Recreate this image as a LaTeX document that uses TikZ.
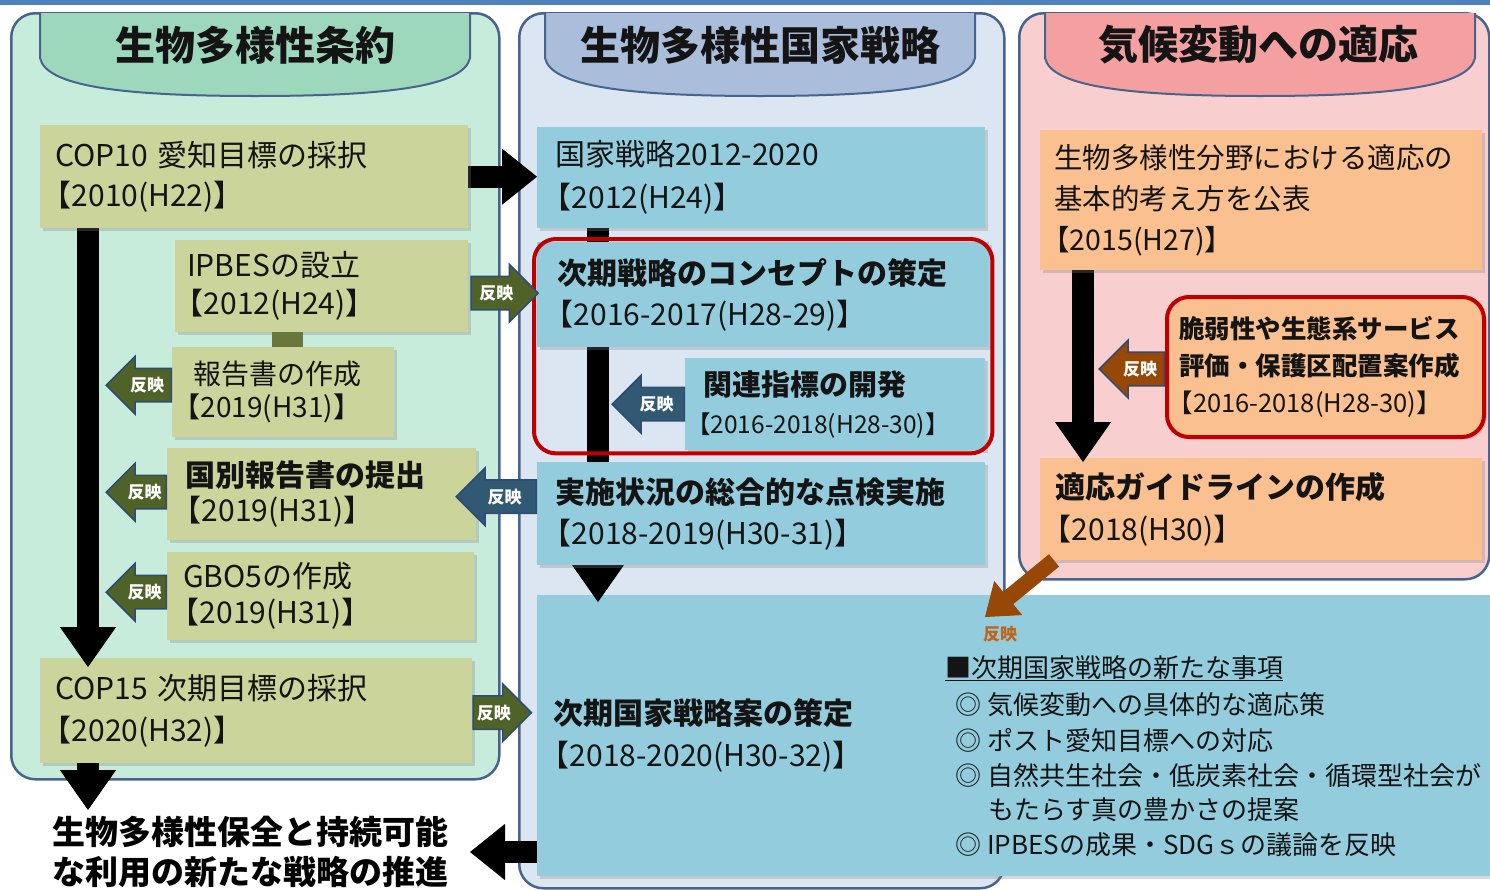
\documentclass[tikz,border=0pt]{standalone}
\usepackage{fontspec}
\setmainfont{Noto Sans CJK JP}
\usetikzlibrary{shapes.arrows,arrows.meta,fit,calc,shadows}
\definecolor{topblue}{RGB}{79,129,189}
\definecolor{pborder}{RGB}{70,100,140}
\definecolor{p1fill}{RGB}{200,236,220}
\definecolor{p2fill}{RGB}{220,230,242}
\definecolor{p3fill}{RGB}{249,206,206}
\definecolor{hd1}{RGB}{158,216,188}
\definecolor{hd2}{RGB}{170,190,220}
\definecolor{hd3}{RGB}{245,160,160}
\definecolor{olbox}{RGB}{203,213,155}
\definecolor{blbox}{RGB}{147,205,221}
\definecolor{orbox}{RGB}{250,192,144}
\definecolor{redline}{RGB}{192,0,0}
\definecolor{olarrow}{RGB}{79,98,40}
\definecolor{slarrow}{RGB}{49,89,115}
\definecolor{brarrow}{RGB}{152,72,6}
\definecolor{arline}{RGB}{45,75,115}
\definecolor{txt}{RGB}{20,20,20}
\definecolor{linkol}{RGB}{105,118,60}
\definecolor{brlabel}{RGB}{190,100,30}
\newcommand\lbk{\hspace*{-0.45em}【}
\newcommand\dt[1]{\mbox{\lbk#1】}}
\pgfdeclarelayer{panel}
\pgfdeclarelayer{low}
\pgfsetlayers{panel,low,main}
\begin{document}
\begin{tikzpicture}[x=1pt,y=-1pt,
  panelbox/.style={draw=pborder, line width=2.5pt, rounded corners=24pt, anchor=north west, inner sep=0pt},
  hdr/.style={draw=pborder, line width=2pt},
  ttl/.style={font=\fontsize{40}{40}\selectfont\bfseries, text=txt, inner sep=0pt},
  bx/.style={anchor=north west, align=left, text=txt, inner ysep=0pt, font=\fontsize{30}{40}\selectfont,
    drop shadow={opacity=0.3, shadow xshift=2.5pt, shadow yshift=-2.5pt}},
  ob/.style={bx, fill=olbox},
  bb/.style={bx, fill=blbox},
  rb/.style={bx, fill=orbox},
  bigarrow/.style={draw=black, line width=22pt, -{Triangle[width=56pt,length=40pt,line width=1pt]}},
  harrow/.style={draw=black, line width=22pt, -{Triangle[width=56pt,length=35pt,line width=1pt]}},
  brownarrow/.style={draw=brarrow, line width=16pt, -{Triangle[width=44pt,length=30pt,line width=1pt]}},
  hanei/.style={single arrow, single arrow head extend=12pt, single arrow head indent=0pt,
    inner xsep=3pt, inner ysep=8pt, minimum height=#1, font=\fontsize{17}{17}\selectfont\bfseries,
    text=white, draw=arline, line width=1.5pt},
  lft/.style={shape border rotate=180},
  lst/.style={font=\fontsize{26}{26}\selectfont, text=txt, inner sep=0pt, anchor=base west},
]
\useasboundingbox (0,0) rectangle (1490,889);

% ---------- panels ----------
\begin{pgfonlayer}{panel}
\fill[white] (0,0) rectangle (1490,889);
\fill[topblue] (0,0) rectangle (1490,5);
\node[panelbox, fill=p1fill, minimum width=488pt, minimum height=766pt] (P1) at (10,12) {};
\node[panelbox, fill=p2fill, minimum width=485pt, minimum height=875pt] (P2) at (518,12) {};
\node[panelbox, fill=p3fill, minimum width=470pt, minimum height=566pt] (P3) at (1018,12) {};
\foreach \x/\c in {40/hd1, 545/hd2, 1045/hd3}{
  \draw[hdr, fill=\c] (\x,13) -- (\x,58) .. controls (\x+6,86) and (\x+80,96) .. (\x+215,96)
     .. controls (\x+350,96) and (\x+424,86) .. (\x+430,58) -- (\x+430,13);
}
\end{pgfonlayer}

\node[ttl] (T1) at (255,45) {生物多様性条約};
\node[ttl] (T2) at (760,45) {生物多様性国家戦略};
\node[ttl] (T3) at (1258,45) {気候変動への適応};

% ---------- panel 1 boxes ----------
\node[ob, minimum height=103pt, text width=398pt, inner xsep=15pt] (B1) at (40,125)
  {COP10 愛知目標の採択\\\dt{2010(H22)}};
\node[ob, minimum height=92pt, text width=269pt, inner xsep=12pt, font=\fontsize{30}{38}\selectfont] (B2) at (175,240)
  {IPBESの設立\\\dt{2012(H24)}};
\node[ob, minimum height=90pt, text width=196pt, inner xsep=13pt, font=\fontsize{28}{33}\selectfont] (B3) at (172,347)
  {\hspace*{8pt}報告書の作成\\\dt{2019(H31)}};
\node[ob, minimum height=92pt, text width=273pt, inner xsep=18pt, font=\fontsize{30}{35}\selectfont] (B4) at (167,448)
  {{\bfseries 国別報告書の提出}\\\dt{2019(H31)}};
\node[ob, minimum height=88pt, text width=275pt, inner xsep=16pt, font=\fontsize{30}{36}\selectfont] (B5) at (167,552)
  {GBO5の作成\\\dt{2019(H31)}};
\fill[linkol] ($(B2.south west)+(97,0)$) rectangle ($(B3.north west)+(131,0)$);

% ---------- panel 2 boxes ----------
\node[bb, minimum height=101pt, text width=412pt, inner xsep=18pt, font=\fontsize{30}{43}\selectfont] (C1) at (537,127)
  {国家戦略2012-2020\\\dt{2012(H24)}};
\node[bb, minimum height=105pt, text width=412pt, inner xsep=20pt, font=\fontsize{30}{41}\selectfont] (C2) at (537,242)
  {{\bfseries 次期戦略のコンセプトの策定}\\\dt{2016-2017(H28-29)}};
\node[bb, minimum height=92pt, text width=276pt, inner xsep=12pt, font=\fontsize{29}{38}\selectfont] (C3) at (685,358)
  {{\bfseries\hspace*{6pt}関連指標の開発}\\{\fontsize{24.5}{38}\selectfont\dt{2016-2018(H28-30)}}};
\node[bb, minimum height=103pt, text width=412pt, inner xsep=18pt, font=\fontsize{30}{41}\selectfont] (C4) at (537,462)
  {{\bfseries 実施状況の総合的な点検実施}\\\dt{2018-2019(H30-31)}};
\node[draw=redline, line width=4pt, rounded corners=22pt, fit=(C2)(C3), inner sep=3pt] (R1) {};

% ---------- panel 3 boxes ----------
\node[rb, minimum height=140pt, text width=414pt, inner xsep=14pt, font=\fontsize{28.5}{41}\selectfont] (D1) at (1040,130)
  {生物多様性分野における適応の\\基本的考え方を公表\\\dt{2015(H27)}};
\node[rb, minimum height=140pt, text width=293pt, inner xsep=12pt, font=\fontsize{25.5}{37}\selectfont,
      draw=redline, line width=4pt, rounded corners=22pt] (D2) at (1165,295)
  {{\bfseries 脆弱性や生態系サービス}\\{\bfseries 評価・保護区配置案作成}\\\dt{2016-2018(H28-30)}};

% ---------- lower layer: boxes under arrow heads, and the big arrows ----------
\begin{pgfonlayer}{low}
\node[ob, minimum height=105pt, text width=402pt, inner xsep=15pt, font=\fontsize{30}{42}\selectfont] (B6) at (40,658)
  {COP15 次期目標の採択\\\dt{2020(H32)}};
\node[bb, minimum height=281pt, text width=921pt, inner xsep=16pt, font=\fontsize{30}{42}\selectfont] (C5) at (537,595)
  {{\bfseries 次期国家戦略案の策定}\\\dt{2018-2020(H30-32)}};
\node[rb, minimum height=102pt, text width=412pt, inner xsep=15pt, font=\fontsize{30}{42}\selectfont] (D3) at (1040,458)
  {{\bfseries 適応ガイドラインの作成}\\\dt{2018(H30)}};

\draw[bigarrow] ($(B1.south west)+(48,0)$) -- ($(B6.north west)+(48,9)$);
\draw[bigarrow] ($(C1.south west)+(61,0)$) -- ($(C5.north west)+(61,7)$);
\draw[bigarrow] ($(D1.south west)+(43,0)$) -- ($(D3.north west)+(43,4)$);
\draw[harrow] (B1.east) -- (C1.west |- B1.east);
\coordinate (tB6) at (88,810);
\draw[bigarrow] ($(B6.south west)+(48,0)$) -- (tB6);
\end{pgfonlayer}

\node[font=\fontsize{33}{40}\selectfont\bfseries, align=center, inner sep=0pt, text=black] (T) at (250,852)
  {生物多様性保全と持続可能\\な利用の新たな戦略の推進};
\begin{pgfonlayer}{low}
\draw[harrow] (C5.west |- T) -- ++(-67,0);
\coordinate (bC5) at (985,617);
\draw[brownarrow] ($(D3.south west)+(14,0)$) -- (bC5);
\end{pgfonlayer}
\node[font=\fontsize{17}{17}\selectfont\bfseries, text=brlabel, inner sep=0pt] (LB) at (1000,634) {反映};

% ---------- 反映 arrows ----------
\node[hanei=67pt, fill=olarrow, anchor=tail] (aB2) at ($(B2.east)+(2,7)$) {反映};
\node[hanei=65pt, lft, fill=olarrow, anchor=tail] (aB3) at ($(B3.west)+(0,-7)$) {反映};
\node[hanei=60pt, lft, fill=olarrow, anchor=tail] (aB4) at ($(B4.west)+(0,-2)$) {反映};
\node[hanei=60pt, lft, fill=olarrow, anchor=tail] (aB5) at ($(B5.west)+(0,-4)$) {反映};
\node[hanei=80pt, lft, fill=slarrow, anchor=tail] (aC4) at ($(C4.west)+(0,-17)$) {反映};
\node[hanei=58pt, fill=olarrow, anchor=tail] (aB6) at ($(B6.east)+(0,2)$) {反映};
\node[hanei=72pt, lft, fill=slarrow, anchor=tail] (aC3) at (C3.west) {反映};
\node[hanei=65pt, lft, fill=brarrow, anchor=tail] (aD2) at ($(D2.west)+(0,2)$) {反映};

% ---------- list in C5 ----------
\node[lst] (L0) at (945,677) {\underline{■次期国家戦略の新たな事項}};
\node[lst] (L1) at (955,714) {◎ 気候変動への具体的な適応策};
\node[lst] (L2) at (955,750) {◎ ポスト愛知目標への対応};
\node[lst] (L3) at (955,785) {◎ 自然共生社会・低炭素社会・循環型社会が};
\node[lst] (L4) at (988,819) {もたらす真の豊かさの提案};
\node[lst] (L5) at (955,854) {◎ IPBESの成果・SDGｓの議論を反映};
\end{tikzpicture}
\end{document}
